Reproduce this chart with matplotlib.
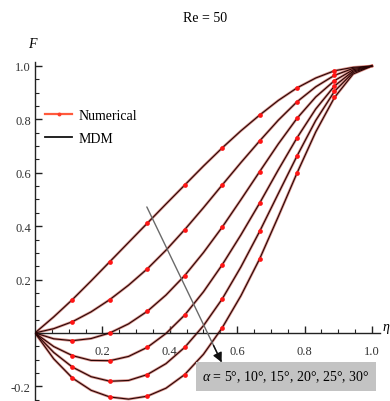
import numpy as np
import matplotlib
matplotlib.use('Agg')
import matplotlib.pyplot as plt
from matplotlib.lines import Line2D

plt.rcParams['font.family'] = ['Liberation Serif', 'DejaVu Serif']
plt.rcParams['mathtext.fontset'] = 'custom'
plt.rcParams['mathtext.rm'] = 'Liberation Serif'
plt.rcParams['mathtext.it'] = 'Liberation Serif:italic'

# data, eta grid in steps of 1/18, numerical points every 1/9
eta = np.linspace(0, 1, 19)
alpha_labels = ['5°', '10°', '15°', '20°', '25°', '30°']
F_a05 = [0, 0.060, 0.125, 0.195, 0.267, 0.339, 0.411, 0.483, 0.554, 0.625,
         0.693, 0.757, 0.816, 0.871, 0.918, 0.955, 0.982, 0.995, 1.0]
F_a10 = [0, 0.016, 0.042, 0.079, 0.125, 0.179, 0.240, 0.310, 0.387, 0.469,
         0.554, 0.638, 0.719, 0.797, 0.866, 0.922, 0.965, 0.991, 1.0]
F_a15 = [0, -0.022, -0.029, -0.021, 0.0, 0.034, 0.081, 0.142, 0.215, 0.301,
         0.396, 0.499, 0.604, 0.708, 0.804, 0.884, 0.945, 0.986, 1.0]
F_a20 = [0, -0.051, -0.085, -0.103, -0.104, -0.088, -0.054, -0.002, 0.067, 0.154,
         0.255, 0.367, 0.486, 0.611, 0.731, 0.839, 0.925, 0.981, 1.0]
F_a25 = [0, -0.073, -0.128, -0.164, -0.181, -0.178, -0.156, -0.115, -0.054, 0.027,
         0.127, 0.247, 0.380, 0.522, 0.663, 0.796, 0.905, 0.976, 1.0]
F_a30 = [0, -0.097, -0.169, -0.215, -0.240, -0.248, -0.237, -0.207, -0.156, -0.080,
         0.019, 0.139, 0.277, 0.436, 0.599, 0.753, 0.882, 0.970, 1.0]
curves = [F_a05, F_a10, F_a15, F_a20, F_a25, F_a30]

# plot
fig = plt.figure(figsize=(3.9, 4.02), dpi=100)
ax = fig.add_axes([0.0897, 0.0, 0.8846, 0.8433])
ax.set_xlim(0, 1.024)
ax.set_ylim(-0.255, 1.015)

for F in curves:
    F = np.array(F)
    ax.plot(eta, F, color='#c8645a', lw=1.9, alpha=0.7, zorder=2,
            solid_joinstyle='round')
    ax.plot(eta, F, color='#280404', lw=0.8, zorder=3, solid_joinstyle='round')
    ax.plot(eta[2:-1:2], F[2:-1:2], 'o', color='#ff1414', ms=3.4, mew=0, zorder=4)

# axes in Mathematica style
for s in ['top', 'right']:
    ax.spines[s].set_visible(False)
ax.spines['bottom'].set_position(('data', 0))
ax.spines['left'].set_position(('data', 0))
ax.spines['bottom'].set_bounds(0, 1.024)
for s in ['left', 'bottom']:
    ax.spines[s].set_linewidth(1.0)
    ax.spines[s].set_color('#222222')

ax.set_xticks([0.2, 0.4, 0.6, 0.8, 1.0])
ax.set_xticklabels(['0.2', '0.4', '0.6', '0.8', '1.0'])
ax.set_xticks(np.arange(0.05, 1.01, 0.05), minor=True)
ax.set_yticks([-0.2, 0.2, 0.4, 0.6, 0.8, 1.0])
ax.set_yticklabels(['-0.2', '0.2', '0.4', '0.6', '0.8', '1.0'])
ax.set_yticks([v for v in np.arange(-0.25, 1.01, 0.05) if abs(v) > 1e-6], minor=True)
ax.tick_params(axis='both', which='major', direction='in', length=5, width=1,
               labelsize=9, labelcolor='#333333', color='#222222', pad=3)
ax.tick_params(axis='both', which='minor', direction='in', length=3, width=0.8,
               color='#222222')
ax.tick_params(axis='x', pad=9)

ax.text(-0.005, 1.085, r'$F$', fontsize=10, ha='center', va='center', clip_on=False)
ax.text(1.03, 0.02, r'$\eta$', fontsize=10, ha='left', va='center', clip_on=False)
fig.text(0.525, 0.955, 'Re = 50', fontsize=10, ha='center', va='center')

# arrow (grey shaft, black head) and alpha label
ax.annotate('', xy=(0.554, -0.110), xytext=(0.332, 0.472),
            arrowprops=dict(arrowstyle='-', color='#6a6a6a', lw=1.0,
                            shrinkA=0, shrinkB=0), zorder=5)
ax.annotate('', xy=(0.554, -0.110), xytext=(0.530, -0.047),
            arrowprops=dict(arrowstyle='-|>', color='#111111', lw=1.0,
                            mutation_scale=14, shrinkA=0, shrinkB=0), zorder=5)
ax.text(0.745, -0.163, r'$\alpha$ = ' + ', '.join(alpha_labels), fontsize=10,
        ha='center', va='center', zorder=6,
        bbox=dict(boxstyle='square,pad=0.45', fc='#c3c3c3', ec='none'))

# legend
handles = [Line2D([], [], color='#ff5a3c', lw=1.6, marker='o', ms=2.8, mew=0,
                  markerfacecolor='#ff3c28'),
           Line2D([], [], color='#111111', lw=1.3)]
ax.legend(handles, ['Numerical', 'MDM'], loc='upper left', bbox_to_anchor=(0.03, 0.862),
          frameon=False, fontsize=10, handlelength=1.95, handletextpad=0.45,
          labelspacing=0.72, borderpad=0, borderaxespad=0)

fig.savefig('out.png', dpi=100)
